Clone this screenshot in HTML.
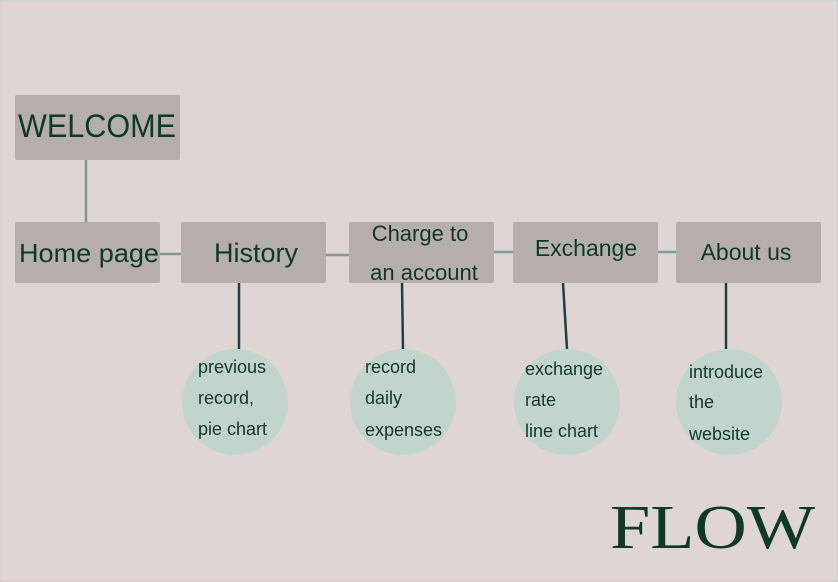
<!DOCTYPE html>
<html><head><meta charset="utf-8"><style>
html,body{margin:0;padding:0;width:838px;height:582px;overflow:hidden;background:#dfd6d4}
svg{display:block}
text{font-family:"Liberation Sans",sans-serif;fill:#0e3a24}
</style></head><body>
<svg width="838" height="582" viewBox="0 0 838 582">
<rect x="0" y="0" width="838" height="582" fill="#dfd6d4"/>
<rect x="0.5" y="0.5" width="837" height="581" fill="none" stroke="#d0d0d0" stroke-width="2"/>
<g stroke="#7f9a98" stroke-width="2.5">
<line x1="86" y1="160" x2="86" y2="222"/>
<line x1="160" y1="254" x2="181" y2="254"/>
<line x1="326" y1="255" x2="349" y2="255"/>
<line x1="494" y1="252" x2="513" y2="252"/>
<line x1="658" y1="252" x2="676" y2="252"/>
</g>
<g stroke="#1d4048" stroke-width="2.5">
<line x1="239" y1="283" x2="239" y2="349"/>
<line x1="402" y1="283" x2="403" y2="349"/>
<line x1="563" y1="283" x2="567" y2="349"/>
<line x1="726" y1="283" x2="726" y2="349"/>
</g>
<g fill="#b6aeab">
<rect x="15" y="95" width="165" height="65" rx="2"/>
<rect x="15" y="222" width="145" height="61" rx="2"/>
<rect x="181" y="222" width="145" height="61" rx="2"/>
<rect x="349" y="222" width="145" height="61" rx="2"/>
<rect x="513" y="222" width="145" height="61" rx="2"/>
<rect x="676" y="222" width="145" height="61" rx="2"/>
</g>
<g fill="#c2d4ce">
<circle cx="235" cy="402" r="53"/>
<circle cx="403" cy="402" r="53"/>
<circle cx="567" cy="402" r="53"/>
<circle cx="729" cy="402" r="53"/>
</g>
<text x="97" y="137" font-size="32" text-anchor="middle" textLength="158" lengthAdjust="spacingAndGlyphs">WELCOME</text>
<text x="89" y="262" font-size="26" text-anchor="middle" textLength="140" lengthAdjust="spacingAndGlyphs">Home page</text>
<text x="256" y="262" font-size="27" text-anchor="middle">History</text>
<text x="420" y="241" font-size="22" text-anchor="middle">Charge to</text>
<text x="424" y="280" font-size="22" text-anchor="middle">an account</text>
<text x="586" y="256" font-size="23" text-anchor="middle">Exchange</text>
<text x="746" y="260" font-size="23" text-anchor="middle">About us</text>
<g font-size="18">
<text x="198" y="373">previous</text>
<text x="198" y="404">record,</text>
<text x="198" y="435">pie chart</text>
<text x="365" y="373">record</text>
<text x="365" y="404">daily</text>
<text x="365" y="436">expenses</text>
<text x="525" y="375">exchange</text>
<text x="525" y="406">rate</text>
<text x="525" y="437">line chart</text>
<text x="689" y="378">introduce</text>
<text x="689" y="408">the</text>
<text x="689" y="440">website</text>
</g>
<text x="610" y="548" font-size="62" style="font-family:'Liberation Serif',serif" textLength="205" lengthAdjust="spacingAndGlyphs">FLOW</text>
</svg>
</body></html>
